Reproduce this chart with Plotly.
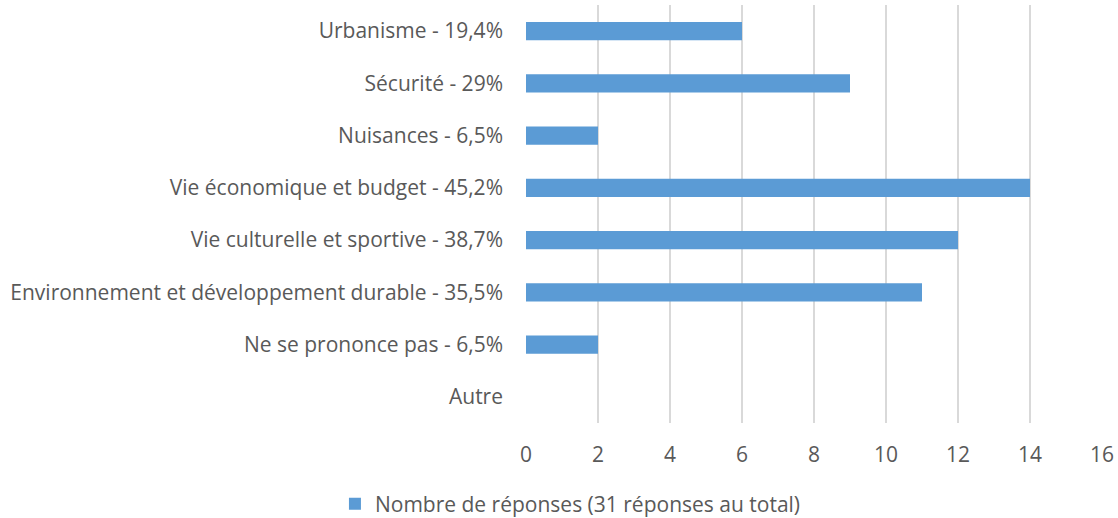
import plotly.graph_objects as go

categories = [
    "Urbanisme - 19,4%",
    "Sécurité - 29%",
    "Nuisances - 6,5%",
    "Vie économique et budget - 45,2%",
    "Vie culturelle et sportive - 38,7%",
    "Environnement et développement durable - 35,5%",
    "Ne se prononce pas - 6,5%",
    "Autre",
]
values = [6, 9, 2, 14, 12, 11, 2, 0]
series_name = "Nombre de réponses (31 réponses au total)"
x_ticks = [0, 2, 4, 6, 8, 10, 12, 14, 16]

TEXT = "#595959"
FONT = "Open Sans"
FSIZE = 21

fig = go.Figure(
    go.Bar(
        x=values,
        y=categories,
        orientation="h",
        name=series_name,
        marker=dict(color="#5B9BD5", line=dict(width=0)),
        showlegend=True,
    )
)

fig.update_layout(
    width=1118,
    height=518,
    margin=dict(l=526, r=16, t=5, b=95),
    paper_bgcolor="white",
    plot_bgcolor="white",
    font=dict(family=FONT, size=FSIZE, color=TEXT),
    bargap=0.655,
    legend=dict(
        orientation="h",
        xref="container",
        yref="container",
        x=0.2996,
        xanchor="left",
        y=0.027,
        yanchor="middle",
        font=dict(family=FONT, size=FSIZE, color=TEXT),
        itemwidth=30,
    ),
)

fig.update_xaxes(
    range=[0, 16],
    tickvals=x_ticks,
    showgrid=True,
    gridcolor="#D9D9D9",
    gridwidth=1.5,
    zeroline=False,
    showline=False,
    ticks="",
    ticklabelstandoff=17,
    tickfont=dict(family=FONT, size=FSIZE, color=TEXT),
)

fig.update_yaxes(
    categoryorder="array",
    categoryarray=categories[::-1],
    showgrid=False,
    zeroline=False,
    showline=False,
    ticks="",
    ticklabelstandoff=22,
    tickfont=dict(family=FONT, size=FSIZE, color=TEXT),
)

fig.write_html(
    "out.html",
    config={"displayModeBar": False},
    post_script="document.body.style.margin='0';document.body.style.overflow='hidden';",
)
